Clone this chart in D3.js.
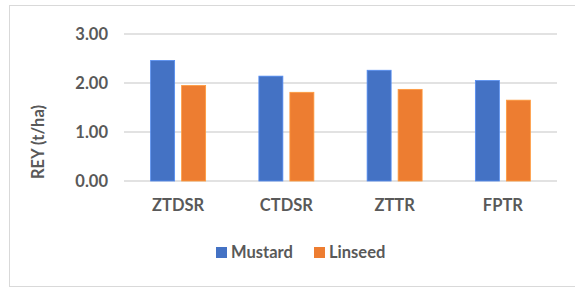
<!DOCTYPE html>
<html>
<head>
<meta charset="utf-8">
<script src="https://cdn.jsdelivr.net/npm/d3@7"></script>
<style>
  body { margin: 0; background: #fff; }
  text { font-family: Lato, "Open Sans", sans-serif; font-weight: 700; fill: #595959; }
</style>
</head>
<body>
<div id="chart"></div>
<script>
// values
const categories = ['ZTDSR', 'CTDSR', 'ZTTR', 'FPTR'];
const seriesNames = ['Mustard', 'Linseed'];
const mustard = [2.46, 2.14, 2.26, 2.05];
const linseed = [1.95, 1.81, 1.87, 1.65];
const yTicks = [0, 1, 2, 3];
const colors = ['#4472C4', '#ED7D31'];

const width = 575, height = 288;
const plot = { left: 124, right: 557, top: 34, bottom: 181 };
const fontSize = '16.5px';

const svg = d3.select('#chart').append('svg')
    .attr('width', width)
    .attr('height', height);

// chart frame
svg.append('rect')
    .attr('x', 9.5).attr('y', 5.5)
    .attr('width', 575).attr('height', 281)
    .attr('fill', 'none')
    .attr('stroke', '#d9d9d9')
    .attr('stroke-width', 1);

const y = d3.scaleLinear().domain([0, 3]).range([plot.bottom, plot.top]);
const x0 = d3.scaleBand().domain(categories).range([plot.left, plot.right]);
const x1 = d3.scaleBand().domain(seriesNames).range([-27.5, 27.5]).paddingInner(0.226);

// gridlines
svg.append('g').selectAll('line')
    .data(yTicks)
    .join('line')
    .attr('x1', plot.left).attr('x2', plot.right)
    .attr('y1', d => y(d)).attr('y2', d => y(d))
    .attr('stroke', '#d9d9d9')
    .attr('stroke-width', 1.5);

// y tick labels
svg.append('g').selectAll('text')
    .data(yTicks)
    .join('text')
    .attr('x', 108)
    .attr('y', d => y(d))
    .attr('dy', '0.35em')
    .attr('text-anchor', 'end')
    .style('font-size', fontSize)
    .text(d => d.toFixed(2));

// y title
svg.append('text')
    .attr('transform', `translate(44,142) rotate(-90)`)
    .attr('text-anchor', 'middle')
    .style('font-size', fontSize)
    .text('REY (t/ha)');

const rows = categories.map((c, i) => ({ cat: c, vals: [mustard[i], linseed[i]] }));

const groups = svg.append('g').selectAll('g')
    .data(rows)
    .join('g')
    .attr('transform', d => `translate(${x0(d.cat) + x0.bandwidth() / 2},0)`);

groups.selectAll('rect')
    .data(d => d.vals.map((v, j) => ({ name: seriesNames[j], v, j })))
    .join('rect')
    .attr('x', d => x1(d.name))
    .attr('width', x1.bandwidth())
    .attr('y', d => y(d.v))
    .attr('height', d => y(0) - y(d.v))
    .attr('fill', d => colors[d.j])
    .attr('stroke', d => d3.color(colors[d.j]).brighter(0.6))
    .attr('stroke-width', 0.8);

// x labels
svg.append('g').selectAll('text')
    .data(categories)
    .join('text')
    .attr('x', d => x0(d) + x0.bandwidth() / 2)
    .attr('y', 211)
    .attr('text-anchor', 'middle')
    .style('font-size', fontSize)
    .text(d => d);

// legend
const legendX = [216, 314];
const legend = svg.append('g').selectAll('g')
    .data(seriesNames)
    .join('g')
    .attr('transform', (d, i) => `translate(${legendX[i]},247)`);

legend.append('rect')
    .attr('width', 11).attr('height', 11)
    .attr('fill', (d, i) => colors[i]);

legend.append('text')
    .attr('x', 15)
    .attr('y', 5.5)
    .attr('dy', '0.35em')
    .style('font-size', fontSize)
    .text(d => d);
</script>
</body>
</html>
